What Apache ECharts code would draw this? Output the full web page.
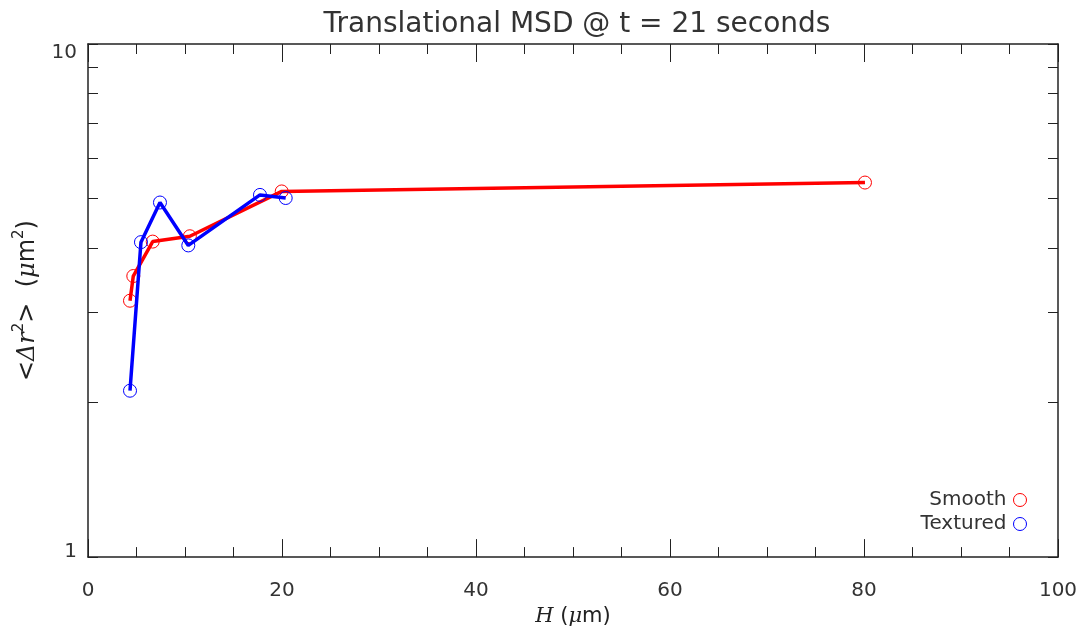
<!DOCTYPE html>
<html>
<head>
<meta charset="utf-8">
<script src="https://cdn.jsdelivr.net/npm/echarts@6/dist/echarts.min.js"></script>
<style>html,body{margin:0;padding:0;background:#fff;}#c{width:1084px;height:632px;}</style>
</head>
<body>
<div id="c"></div>
<script>
const smoothH = [4.33, 4.67, 6.67, 10.5, 19.97, 80.1];
const smoothMSD = [3.16, 3.53, 4.12, 4.22, 5.16, 5.37];
const texturedH = [4.33, 5.46, 7.42, 10.34, 17.73, 20.38];
const texturedMSD = [2.11, 4.11, 4.91, 4.05, 5.08, 5.01];
const yTickValues = [1, 2, 3, 4, 5, 6, 7, 8, 9, 10];
const yLabelValues = [1, 10];
const titleText = 'Translational MSD @ t = 21 seconds';

const font = "'DejaVu Sans', sans-serif";
const chart = echarts.init(document.getElementById('c'), null, {renderer: 'canvas'});
const axisLine = {show: true, onZero: false, lineStyle: {color: '#222', width: 1.5}};
const pair = (xs, ys) => xs.map((x, i) => [x, ys[i]]);

chart.setOption({
  animation: false,
  backgroundColor: '#fff',
  title: {
    text: titleText, left: 572, top: 6, textAlign: 'center',
    textStyle: {fontFamily: font, fontSize: 28, fontWeight: 'normal', color: '#333'}
  },
  grid: {left: 88, right: 26, top: 44, bottom: 74, containLabel: false},
  legend: {
    orient: 'vertical', right: 52, top: 484, align: 'right', itemGap: 2,
    itemWidth: 13, itemHeight: 13, icon: 'circle',
    textStyle: {fontFamily: font, fontSize: 20, lineHeight: 22, color: '#333', padding: [0, 2, 0, 0]},
    data: [
      {name: 'Smooth', itemStyle: {color: 'transparent', borderColor: '#ff0000', borderWidth: 1}},
      {name: 'Textured', itemStyle: {color: 'transparent', borderColor: '#0000ff', borderWidth: 1}}
    ]
  },
  xAxis: [{
    type: 'value', position: 'bottom', min: 0, max: 100, interval: 20,
    axisLine: axisLine,
    axisTick: {show: true, inside: true, length: 18, lineStyle: {color: '#222', width: 1}},
    minorTick: {show: true, splitNumber: 4, length: 10, lineStyle: {color: '#222', width: 1}},
    splitLine: {show: false}, minorSplitLine: {show: false},
    axisLabel: {margin: 24, fontFamily: font, fontSize: 20, color: '#333'},
    name: '{i|H}  {n|(}{i|μ}{n|m)}', nameLocation: 'middle', nameGap: 42,
    nameTextStyle: {
      rich: {
        i: {fontFamily: "'DejaVu Serif', serif", fontStyle: 'italic', fontSize: 21, color: '#222'},
        n: {fontFamily: font, fontSize: 21, color: '#222'}
      }
    }
  }, {
    type: 'value', position: 'top', min: 0, max: 100, interval: 20,
    axisLine: axisLine,
    axisTick: {show: true, inside: true, length: 18, lineStyle: {color: '#222', width: 1}},
    minorTick: {show: true, splitNumber: 4, length: 10, lineStyle: {color: '#222', width: 1}},
    splitLine: {show: false}, axisLabel: {show: false}
  }],
  yAxis: [{
    type: 'log', logBase: 10, min: 1, max: 10, position: 'left',
    axisLine: axisLine,
    axisTick: {show: true, inside: true, length: 10, customValues: yTickValues, lineStyle: {color: '#222', width: 1}},
    splitLine: {show: false},
    axisLabel: {
      margin: 11, customValues: yLabelValues, fontFamily: font, fontSize: 20, color: '#333',
      formatter: v => (v >= 10 ? '{t|10}' : '{b|1}'),
      rich: {
        t: {fontFamily: font, fontSize: 20, color: '#333', padding: [18, 0, 0, 0]},
        b: {fontFamily: font, fontSize: 20, color: '#333', padding: [0, 0, 10, 0]}
      }
    },
    name: '{n|<}{i|Δr}{s|2}{n|>  (}{i|μ}{n|m}{s|2}{n|)}', nameLocation: 'middle', nameGap: 45, nameRotate: 90,
    nameTextStyle: {
      rich: {
        i: {fontFamily: "'DejaVu Serif', serif", fontStyle: 'italic', fontSize: 24, color: '#222'},
        n: {fontFamily: font, fontSize: 24, color: '#222'},
        s: {fontFamily: font, fontSize: 15, color: '#222', padding: [0, 0, 16, 0]}
      }
    }
  }, {
    type: 'log', logBase: 10, min: 1, max: 10, position: 'right',
    axisLine: axisLine,
    axisTick: {show: true, inside: true, length: 10, customValues: yTickValues, lineStyle: {color: '#222', width: 1}},
    splitLine: {show: false}, axisLabel: {show: false}
  }],
  series: [{
    name: 'Smooth', type: 'line', xAxisIndex: 0, yAxisIndex: 0,
    data: pair(smoothH, smoothMSD),
    symbol: 'circle', symbolSize: 13,
    lineStyle: {color: '#ff0000', width: 3.5},
    itemStyle: {color: 'transparent', borderColor: '#ff0000', borderWidth: 1},
    z: 2
  }, {
    name: 'Textured', type: 'line', xAxisIndex: 0, yAxisIndex: 0,
    data: pair(texturedH, texturedMSD),
    symbol: 'circle', symbolSize: 13,
    lineStyle: {color: '#0000ff', width: 3.5},
    itemStyle: {color: 'transparent', borderColor: '#0000ff', borderWidth: 1},
    z: 3
  }]
});
</script>
</body>
</html>
